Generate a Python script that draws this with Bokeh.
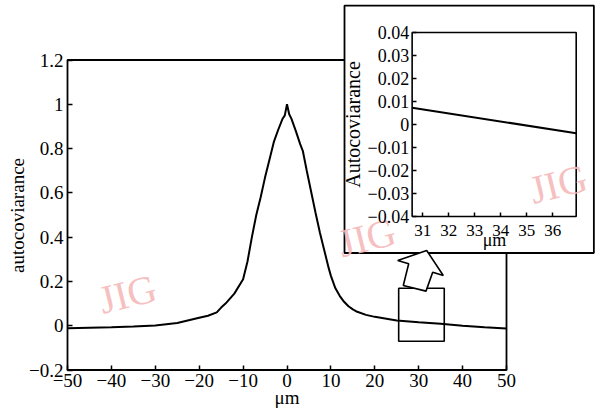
from bokeh.plotting import figure
from bokeh.models import Range1d, LinearAxis, FixedTicker
from bokeh.core.properties import value
from bokeh.embed import file_html
from bokeh.resources import INLINE

# ---------------- data ----------------
x_um = [-50, -45, -40, -35, -30, -25, -20, -18, -16, -15, -14, -12, -10, -9, -8, -7, -6,
        -5, -4, -3, -2, -1, -0.5, 0, 0.5, 1, 2, 3, 3.6, 4.5, 5.5, 6.5, 7.5, 8.5, 9.5,
        10, 11, 12, 13, 14, 15, 16, 18, 20, 25, 30, 35, 40, 45, 50]
autocov = [-0.011, -0.009, -0.007, -0.004, 0.001, 0.012, 0.036, 0.045, 0.060, 0.082, 0.100,
           0.145, 0.210, 0.290, 0.400, 0.500, 0.580, 0.670, 0.750, 0.830, 0.885, 0.935,
           0.950, 1.000, 0.955, 0.935, 0.880, 0.820, 0.790, 0.700, 0.605, 0.510, 0.420,
           0.340, 0.260, 0.225, 0.170, 0.135, 0.108, 0.088, 0.074, 0.063, 0.049, 0.040,
           0.024, 0.016, 0.009, 0.000, -0.007, -0.013]

x_ticks = [-50, -40, -30, -20, -10, 0, 10, 20, 30, 40, 50]
x_tick_labels = ["\u221250", "\u221240", "\u221230", "\u221220", "\u221210", "0",
                 "10", "20", "30", "40", "50"]
y_ticks = [-0.2, 0.0, 0.2, 0.4, 0.6, 0.8, 1.0, 1.2]
y_tick_labels = ["\u22120.2", "0", "0.2", "0.4", "0.6", "0.8", "1", "1.2"]
x_lim = [-50, 50]
y_lim = [-0.2, 1.2]

inset_x = [30.59, 36.9]
inset_y = [0.0073, -0.0038]
inset_x_lim = [30.59, 36.9]
inset_y_lim = [-0.04, 0.04]
inset_x_ticks = [31, 32, 33, 34, 35, 36]
inset_x_tick_labels = ["31", "32", "33", "34", "35", "36"]
inset_y_ticks = [-0.04, -0.03, -0.02, -0.01, 0.0, 0.01, 0.02, 0.03, 0.04]
inset_y_tick_labels = ["\u22120.04", "\u22120.03", "\u22120.02", "\u22120.01", "0",
                       "0.01", "0.02", "0.03", "0.04"]

zoom_x = [25.44, 35.82]
zoom_y = [-0.070, 0.1694]
inset_frame_x = [13.1, 69.9]
inset_frame_y = [0.3283, 1.446]
arrow_x = [31.82, 35.60, 33.19, 31.66, 26.49, 27.72, 25.22]
arrow_y = [0.3397, 0.2267, 0.2416, 0.1562, 0.1816, 0.2796, 0.2945]

wm_text = ["JIG", "JIG", "JIG"]
wm_x = [-36.3, 18.2, 61.8]
wm_y = [0.143, 0.398, 0.640]

# ---------------- layout ----------------
W, H = 599, 411
FONT = "Liberation Serif"


def xrange_from(v0, p0, v1, p1):
    s = (v1 - v0) / (p1 - p0)
    return Range1d(v0 - p0 * s, v0 + (W - p0) * s)


def yrange_from(v0, p0, v1, p1):
    s = (v1 - v0) / (p1 - p0)
    return Range1d(v0 + (H - p0) * s, v0 - p0 * s)


p = figure(width=W, height=H, output_backend="svg", toolbar_location=None,
           x_range=xrange_from(-50, 67, 50, 506),
           y_range=yrange_from(1.2, 59.5, -0.2, 369.5),
           x_axis_type=None, y_axis_type=None, min_border=0)
p.extra_x_ranges = {"ix": xrange_from(31, 422.3, 36, 552.3)}
p.extra_y_ranges = {"iy": yrange_from(0.04, 32, -0.04, 216)}
p.outline_line_color = None
p.background_fill_color = "white"
p.border_fill_color = "white"


def add_axis(side, ticks, labels, bounds, loc, label, xr="default", yr="default",
             tick_len=5, size="19px", lsize="19px", standoff=4, lstandoff=2):
    ax = LinearAxis(ticker=FixedTicker(ticks=ticks), bounds=tuple(bounds),
                    fixed_location=loc, x_range_name=xr, y_range_name=yr,
                    axis_label=label)
    ax.major_label_overrides = {t: l for t, l in zip(ticks, labels)}
    ax.axis_line_color = None
    ax.major_tick_in = tick_len
    ax.major_tick_out = 0
    ax.major_tick_line_color = "black"
    ax.major_tick_line_width = 1.5
    ax.minor_tick_line_color = None
    ax.major_label_text_font = FONT
    ax.major_label_text_font_size = size
    ax.major_label_text_color = "black"
    ax.major_label_standoff = standoff
    ax.axis_label_text_font = FONT
    ax.axis_label_text_font_size = lsize
    ax.axis_label_text_font_style = "normal"
    ax.axis_label_text_color = "black"
    ax.axis_label_standoff = lstandoff
    p.add_layout(ax, side)
    return ax


# main plot
p.quad(left=[x_lim[0]], right=[x_lim[1]], bottom=[y_lim[0]], top=[y_lim[1]],
       fill_color=None, line_color="black", line_width=1.8)
p.line(x_um, autocov, line_color="black", line_width=2)
p.quad(left=[zoom_x[0]], right=[zoom_x[1]], bottom=[zoom_y[0]], top=[zoom_y[1]],
       fill_color=None, line_color="black", line_width=1.6)

# inset
p.quad(left=[inset_frame_x[0]], right=[inset_frame_x[1]], bottom=[inset_frame_y[0]],
       top=[inset_frame_y[1]], fill_color="white", line_color="black", line_width=1.8)
p.quad(left=[inset_x_lim[0]], right=[inset_x_lim[1]], bottom=[inset_y_lim[0]],
       top=[inset_y_lim[1]], fill_color=None, line_color="black", line_width=1.6,
       x_range_name="ix", y_range_name="iy")
p.line(inset_x, inset_y, line_color="black", line_width=2,
       x_range_name="ix", y_range_name="iy")

# arrow
p.patch(arrow_x, arrow_y, fill_color="white", line_color="black", line_width=1.6)

# axes
add_axis("below", x_ticks, x_tick_labels, x_lim, y_lim[0], "\u03bcm",
         standoff=4, lstandoff=-4)
add_axis("left", y_ticks, y_tick_labels, y_lim, x_lim[0], "autocoviarance",
         standoff=4, lstandoff=-2)
add_axis("below", inset_x_ticks, inset_x_tick_labels, inset_x_lim, inset_y_lim[0],
         "\u03bcm", xr="ix", yr="iy", tick_len=4, size="17px", lsize="18px",
         standoff=8, lstandoff=-9)
add_axis("left", inset_y_ticks, inset_y_tick_labels, inset_y_lim, inset_x_lim[0],
         "Autocoviarance", xr="ix", yr="iy", tick_len=4, size="18px", lsize="20px",
         standoff=3, lstandoff=1)

# watermarks
p.text(x=wm_x, y=wm_y, text=wm_text, angle=0.24, text_align="center",
       text_baseline="middle", text_color="#f5b8b8", text_alpha=0.9,
       text_font=value(FONT), text_font_size="40px")

open("out.html", "w").write(file_html(p, INLINE))
